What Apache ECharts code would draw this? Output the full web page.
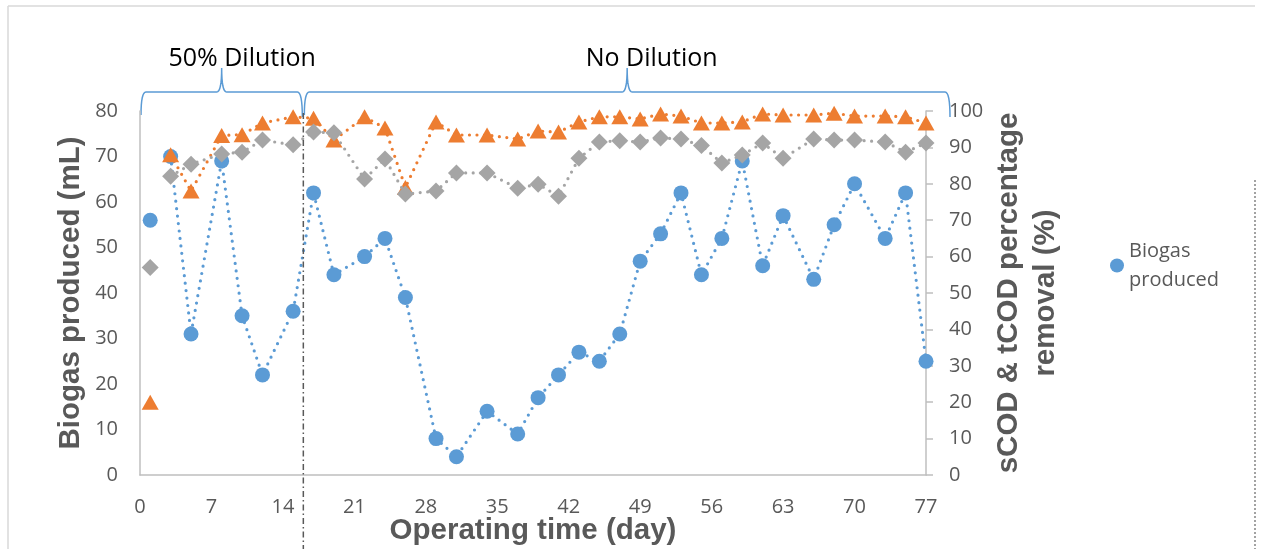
<!DOCTYPE html>
<html>
<head>
<meta charset="utf-8">
<script src="https://cdn.jsdelivr.net/npm/echarts@6/dist/echarts.min.js"></script>
<style>
  html, body { margin: 0; padding: 0; background: #fff; }
  #chart { width: 1261px; height: 549px; }
</style>
</head>
<body>
<div id="chart"></div>
<script>
// Operating days on which samples were taken
const days = [1, 3, 5, 8, 10, 12, 15, 17, 19, 22, 24, 26, 29, 31, 34, 37, 39, 41, 43, 45, 47, 49, 51, 53, 55, 57, 59, 61, 63, 66, 68, 70, 73, 75, 77];
// Biogas produced (mL), left axis
const biogas = [56, 70, 31, 69, 35, 22, 36, 62, 44, 48, 52, 39, 8, 4, 14, 9, 17, 22, 27, 25, 31, 47, 53, 62, 44, 52, 69, 46, 57, 43, 55, 64, 52, 62, 25];
// tCOD removal (%), right axis
const tcodRemoval = [20, 88, 78, 93.3, 93.5, 96.7, 98.4, 98, 92, 98.4, 95.3, 79, 97, 93.4, 93.4, 92.3, 94.5, 94.2, 97, 98.4, 98.4, 97.8, 99.2, 98.6, 96.7, 96.7, 97, 99.2, 98.9, 98.9, 99.4, 98.6, 98.6, 98.4, 96.7];
// sCOD removal (%), right axis
const scodRemoval = [57, 82.1, 85.4, 88.2, 88.7, 92, 90.7, 94.2, 94, 81.3, 86.8, 77.2, 78, 83, 83, 78.8, 79.9, 76.6, 87, 91.5, 91.8, 91.5, 92.6, 92.3, 90.5, 85.7, 87.9, 91.2, 87, 92.3, 92, 92, 91.5, 88.7, 91.2];
// Day on which the feed switched from 50% dilution to undiluted
const dilutionEndDay = 16;
const phaseLabels = ['50% Dilution', 'No Dilution'];

// The day-1 start-up sample stands alone; the trend lines begin at day 3.
function seriesData(xs, ys) {
  const out = [];
  xs.forEach((x, i) => {
    out.push([x, ys[i]]);
    if (i === 0) out.push([x, '-']);
  });
  return out;
}

const TICK_FONT = '"Open Sans", sans-serif';
const TITLE_FONT = '"Liberation Sans", Arial, sans-serif';
const GREY_TEXT = '#595959';
const AXIS_GREY = '#BFBFBF';
const TITLE_SIZE = 29.5;

const dotted = (color) => ({ color, width: 3.2, type: [0, 7.5], cap: 'round' });

const chart = echarts.init(document.getElementById('chart'), null, { renderer: 'canvas' });

chart.setOption({
  animation: false,
  backgroundColor: '#fff',
  grid: { left: 140, right: 335, top: 111, bottom: 74, containLabel: false, outerBoundsMode: 'none' },
  legend: {
    data: ['Biogas produced'],
    left: 1105,
    top: 217,
    orient: 'vertical',
    icon: 'circle',
    itemWidth: 14,
    itemHeight: 14,
    formatter: (n) => n.replace(' ', '\n'),
    textStyle: {
      fontFamily: TICK_FONT, fontSize: 20, color: GREY_TEXT,
      lineHeight: 29, padding: [29, 0, 0, 0]
    }
  },
  xAxis: {
    type: 'value',
    min: 0, max: 77, interval: 7,
    name: 'Operating time (day)',
    nameLocation: 'middle',
    nameGap: 41,
    nameMoveOverlap: false,
    nameTextStyle: { fontFamily: TITLE_FONT, fontSize: TITLE_SIZE, fontWeight: 'bold', color: GREY_TEXT },
    axisLine: { show: true, lineStyle: { color: AXIS_GREY, width: 1.5 } },
    axisTick: { show: false },
    splitLine: { show: false },
    axisLabel: { fontFamily: TICK_FONT, fontSize: 20, color: GREY_TEXT, margin: 22 }
  },
  yAxis: [
    {
      type: 'value',
      min: 0, max: 80, interval: 10,
      position: 'left',
      name: 'Biogas produced (mL)',
      nameLocation: 'middle',
      nameGap: 54,
      nameMoveOverlap: false,
      nameTextStyle: { fontFamily: TITLE_FONT, fontSize: TITLE_SIZE, fontWeight: 'bold', color: GREY_TEXT },
      axisLine: { show: true, lineStyle: { color: AXIS_GREY, width: 1.5 } },
      axisTick: { show: false },
      splitLine: { show: false },
      axisLabel: { fontFamily: TICK_FONT, fontSize: 20, color: GREY_TEXT, margin: 22 }
    },
    {
      type: 'value',
      min: 0, max: 100, interval: 10,
      position: 'right',
      name: 'sCOD & tCOD percentage\nremoval (%)',
      nameLocation: 'middle',
      nameGap: 64,
      nameMoveOverlap: false,
      nameTextStyle: { fontFamily: TITLE_FONT, fontSize: TITLE_SIZE, fontWeight: 'bold', color: GREY_TEXT, lineHeight: 37 },
      axisLine: { show: true, lineStyle: { color: AXIS_GREY, width: 1.5 } },
      axisTick: { show: true, length: 7, lineStyle: { color: AXIS_GREY, width: 1.5 } },
      splitLine: { show: false },
      axisLabel: { fontFamily: TICK_FONT, fontSize: 20, color: GREY_TEXT, margin: 23 }
    }
  ],
  series: [
    {
      name: 'Biogas produced',
      type: 'line',
      yAxisIndex: 0,
      data: seriesData(days, biogas),
      connectNulls: false,
      symbol: 'circle',
      symbolSize: 15,
      itemStyle: { color: '#5B9BD5' },
      lineStyle: dotted('#5B9BD5'),
      z: 2
    },
    {
      name: 'tCOD removal',
      type: 'line',
      yAxisIndex: 1,
      data: seriesData(days, tcodRemoval),
      connectNulls: false,
      symbol: 'triangle',
      symbolSize: [17, 15],
      itemStyle: { color: '#ED7D31' },
      lineStyle: dotted('#ED7D31'),
      z: 3
    },
    {
      name: 'sCOD removal',
      type: 'line',
      yAxisIndex: 1,
      data: seriesData(days, scodRemoval),
      connectNulls: false,
      symbol: 'diamond',
      symbolSize: 17,
      itemStyle: { color: '#A5A5A5' },
      lineStyle: dotted('#A5A5A5'),
      z: 4
    }
  ]
});

// Phase annotations: braces, labels, the switch-over line and the outer frame
const px = (d) => chart.convertToPixel({ xAxisIndex: 0 }, d);
const x0 = px(0) + 1;
const xSwitch = px(dilutionEndDay);
const xEnd = px(77) + 24;
const yBar = 92, yTip = 68, yFoot = 115;

// Quadratic curve sampled into polyline points
function quad(p0, c, p1, n) {
  const pts = [];
  for (let i = 1; i <= n; i++) {
    const t = i / n, u = 1 - t;
    pts.push([u * u * p0[0] + 2 * u * t * c[0] + t * t * p1[0],
              u * u * p0[1] + 2 * u * t * c[1] + t * t * p1[1]]);
  }
  return pts;
}

function braceNodes(a, b) {
  const m = (a + b) / 2, r = 5;
  let pts = [[a, yFoot]];
  pts = pts.concat(quad([a, yFoot], [a, yBar], [a + r, yBar], 8));
  pts.push([m - r, yBar]);
  pts = pts.concat(quad([m - r, yBar], [m, yBar], [m, yTip], 8));
  pts = pts.concat(quad([m, yTip], [m, yBar], [m + r, yBar], 8));
  pts.push([b - r, yBar]);
  pts = pts.concat(quad([b - r, yBar], [b, yBar], [b, yFoot + 2], 8));
  return pts;
}

const braceStyle = { stroke: '#5B9BD5', lineWidth: 1.5, fill: null };
const labelStyle = { fontFamily: TICK_FONT, fontSize: 25, fill: '#000', align: 'center', verticalAlign: 'bottom' };

chart.setOption({
  graphic: [
    { type: 'line', shape: { x1: 8, y1: 6, x2: 1255, y2: 6 }, style: { stroke: '#D9D9D9', lineWidth: 1.5 }, silent: true },
    { type: 'line', shape: { x1: 8, y1: 6, x2: 8, y2: 549 }, style: { stroke: '#D9D9D9', lineWidth: 1.5 }, silent: true },
    { type: 'line', shape: { x1: 1255, y1: 180, x2: 1255, y2: 549 }, style: { stroke: '#666', lineWidth: 1.2, lineDash: [2, 2] }, silent: true },
    { type: 'polyline', shape: { points: braceNodes(x0, xSwitch - 1) }, style: braceStyle, silent: true },
    { type: 'polyline', shape: { points: braceNodes(xSwitch + 1, xEnd) }, style: braceStyle, silent: true },
    { type: 'text', x: (x0 + xSwitch) / 2 + 20, y: 71, style: Object.assign({ text: phaseLabels[0] }, labelStyle), silent: true },
    { type: 'text', x: (xSwitch + xEnd) / 2 + 25, y: 71, style: Object.assign({ text: phaseLabels[1] }, labelStyle), silent: true },
    { type: 'line', shape: { x1: xSwitch, y1: 113, x2: xSwitch, y2: 549 }, style: { stroke: '#595959', lineWidth: 1.5, lineDash: [6, 3, 1.5, 3] }, z: 10, silent: true }
  ]
});
</script>
</body>
</html>
